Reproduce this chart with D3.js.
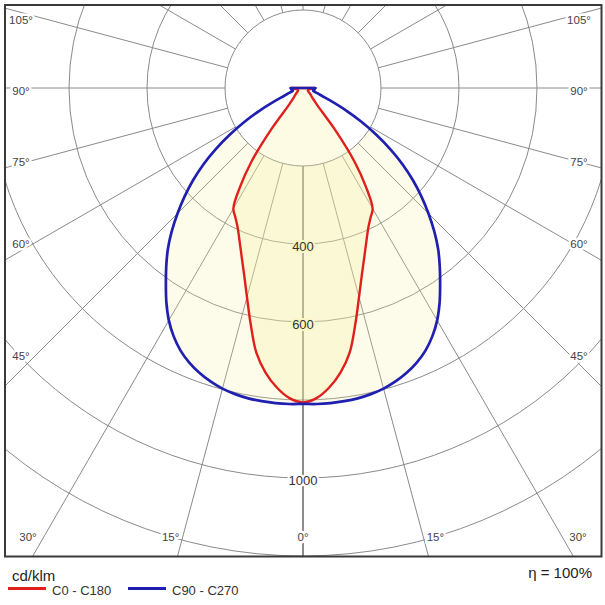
<!DOCTYPE html>
<html><head><meta charset="utf-8">
<script src="https://cdn.jsdelivr.net/npm/d3@7"></script>
<style>
html,body{margin:0;padding:0;background:#fff;}
svg{display:block;font-family:Arial,"Liberation Sans",sans-serif;}
</style>
</head><body>
<svg id="chart" width="605" height="605"></svg>
<script>
// ---- data (cd/klm) ----
const gammaAngles = [0,2.5,5,7.5,10,12.5,15,17.5,20,22.5,25,27.5,30,32.5,35,37.5,40,42.5,45,47.5,50,52.5,55,57.5,60,62.5,65,67.5,70,72.5,75,77.5,80,82.5,85,87.5,90];
const c0c180  = [806,796,771,736,689,620,555,502,460,425,396,375,357,300,230,136,54,40,32,28,24,21,18,16,15,14,14,14,14,15,15,16,17,19,22,26,30];
const c90c270 = [810,811,811,810,808,804,798,789,777,762,743,718,688,652,613,576,539,498,455,412,368,322,273,222,172,124,80,52,39,31,27,27,28,29,30,31,32];
const ringValues = [200,400,600,800,1000,1200];
const ringLabelValues = [400,600,1000];
const spokeAngles = [0,15,30,45,60,75,90,105,120,135,150,165,180];
const sideLabelAngles = [45,60,75,90,105];
const bottomLabelAngles = [0,15,30];
const seriesNames = ["C0 - C180","C90 - C270"];
const unitLabel = "cd/klm";
const efficiencyLabel = "η = 100%";

// ---- layout ----
const svg = d3.select("#chart");
const box = {x0:5, y0:5, x1:601.5, y1:556.5};
const cx = 303, cy = 88;
const r = d3.scaleLinear().domain([0,1200]).range([0,468]);
const rad = d => d*Math.PI/180;
const gridColor = "#8a8a8a";
const redColor = "#e0201c", blueColor = "#2020b0";

const defs = svg.append("defs");
defs.append("clipPath").attr("id","boxclip").append("rect")
  .attr("x",box.x0).attr("y",box.y0).attr("width",box.x1-box.x0).attr("height",box.y1-box.y0);
const grad = defs.append("radialGradient").attr("id","yel")
  .attr("gradientUnits","userSpaceOnUse").attr("cx",cx).attr("cy",250).attr("r",190);
grad.append("stop").attr("offset","0").attr("stop-color","#f2e84a");
grad.append("stop").attr("offset","1").attr("stop-color","#f5ef9a");

const plot = svg.append("g").attr("clip-path","url(#boxclip)");

// grid rings
plot.append("g").selectAll("circle").data(ringValues.slice(1)).join("circle")
  .attr("cx",cx).attr("cy",cy).attr("r",d=>r(d))
  .attr("fill","none").attr("stroke",gridColor).attr("stroke-width",1);

// spokes
const spokes = [];
spokeAngles.forEach(a=>{
  [-1,1].forEach(s=>{ if((a===0||a===180)&&s===1) return; spokes.push({a,s}); });
});
plot.append("g").selectAll("line").data(spokes).join("line")
  .attr("x1",d=>cx+d.s*r(200)*Math.sin(rad(d.a))).attr("y1",d=>cy+r(200)*Math.cos(rad(d.a)))
  .attr("x2",d=>cx+d.s*900*Math.sin(rad(d.a))).attr("y2",d=>cy+900*Math.cos(rad(d.a)))
  .attr("stroke",d=>d.a===0?"#1a1a1a":gridColor).attr("stroke-width",1);

// curves
function fullCurve(vals){
  const pts=[];
  for(let i=gammaAngles.length-1;i>=0;i--) pts.push([Math.PI+rad(gammaAngles[i]), r(vals[i])]);
  for(let i=1;i<gammaAngles.length;i++) pts.push([Math.PI-rad(gammaAngles[i]), r(vals[i])]);
  return pts;
}
const radial = d3.lineRadial().angle(d=>d[0]).radius(d=>d[1]).curve(d3.curveCatmullRom.alpha(0.5));
const g = plot.append("g").attr("transform",`translate(${cx},${cy})`);

g.append("path").attr("d",radial(fullCurve(c90c270))+"Z")
  .attr("fill","url(#yel)").attr("fill-opacity",0.2).attr("stroke","none");
g.append("circle").attr("r",r(200)).attr("fill","#fff").attr("stroke",gridColor).attr("stroke-width",1);
g.append("path").attr("d",radial(fullCurve(c0c180))+"Z")
  .attr("fill","url(#yel)").attr("fill-opacity",0.27).attr("stroke","none");

g.append("path").attr("d",radial(fullCurve(c0c180))+"Z")
  .attr("fill","none").attr("stroke",redColor).attr("stroke-width",2.4).attr("stroke-linejoin","round");
g.append("path").attr("d",radial(fullCurve(c90c270))+"Z")
  .attr("fill","none").attr("stroke",blueColor).attr("stroke-width",2.7).attr("stroke-linejoin","round");

// ring value labels
plot.append("g").selectAll("text").data(ringLabelValues).join("text")
  .attr("x",cx).attr("y",d=>cy+r(d)+2.5)
  .attr("text-anchor","middle").attr("dominant-baseline","central")
  .attr("font-size",13).attr("fill","#333")
  .attr("stroke",d=>d<=800?"#faf6c4":"#fff").attr("stroke-width",4).attr("paint-order","stroke")
  .text(d=>d);

// angle labels
const angleLabels = [];
sideLabelAngles.forEach(a=>{
  const yy = cy + 265*Math.cos(rad(a))/Math.sin(rad(a)) + 3;
  angleLabels.push({t:a+"°", x:21, y:yy});
  angleLabels.push({t:a+"°", x:579, y:yy});
});
bottomLabelAngles.forEach(a=>{
  const off = Math.min(449*Math.tan(rad(a))*1.1, 275);
  angleLabels.push({t:a+"°", x:cx-off, y:537});
  if(a!==0) angleLabels.push({t:a+"°", x:cx+off, y:537});
});
plot.append("g").selectAll("text").data(angleLabels).join("text")
  .attr("x",d=>d.x).attr("y",d=>d.y)
  .attr("text-anchor","middle").attr("dominant-baseline","central")
  .attr("font-size",11.5).attr("fill","#444")
  .attr("stroke","#fff").attr("stroke-width",5).attr("paint-order","stroke")
  .text(d=>d.t);

// frame
svg.append("rect").attr("x",box.x0).attr("y",box.y0)
  .attr("width",box.x1-box.x0).attr("height",box.y1-box.y0)
  .attr("fill","none").attr("stroke","#3a3a3a").attr("stroke-width",2);

// legend
svg.append("text").attr("x",12).attr("y",581).attr("font-size",15).attr("fill","#222").text(unitLabel);
svg.append("text").attr("x",592).attr("y",578).attr("text-anchor","end").attr("font-size",15).attr("fill","#222").text(efficiencyLabel);
const legendCols = [redColor, blueColor];
const legendX = [8, 128];
seriesNames.forEach((n,i)=>{
  svg.append("line").attr("x1",legendX[i]).attr("x2",legendX[i]+38).attr("y1",588.5).attr("y2",588.5)
    .attr("stroke",legendCols[i]).attr("stroke-width",3);
  svg.append("text").attr("x",legendX[i]+44).attr("y",594.5).attr("font-size",13).attr("fill","#333").text(n);
});
</script>
</body></html>
